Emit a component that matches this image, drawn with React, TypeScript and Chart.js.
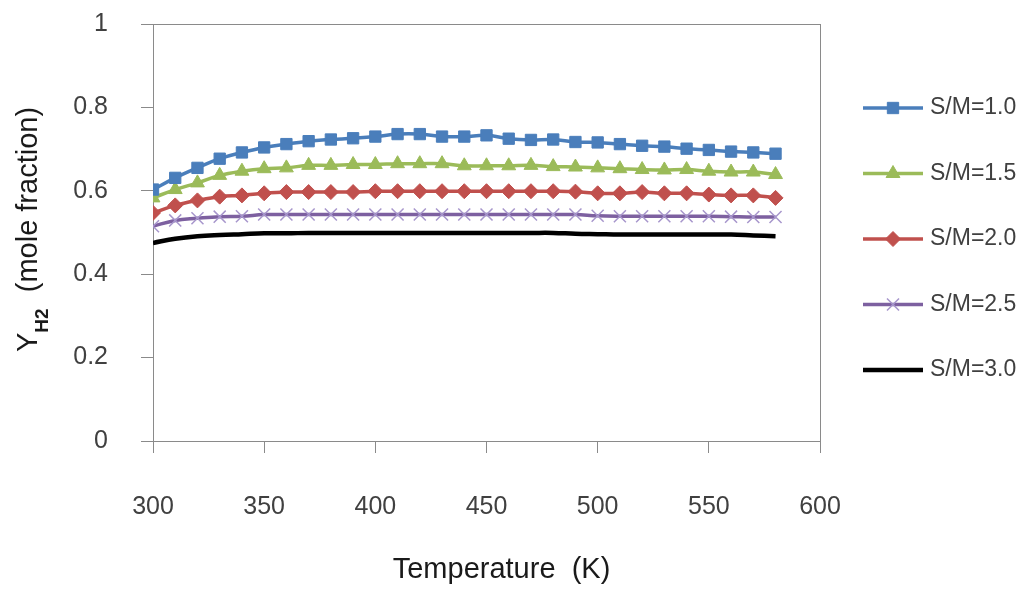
import React, { useEffect, useRef } from 'react';
import { Chart, registerables } from 'chart.js';
import { drawPoint } from 'chart.js/helpers';

Chart.register(...registerables);

// Reaction temperature (K)
const temperatures = [
  300, 310, 320, 330, 340, 350, 360, 370, 380, 390,
  400, 410, 420, 430, 440, 450, 460, 470, 480, 490,
  500, 510, 520, 530, 540, 550, 560, 570, 580,
];

// Hydrogen mole fraction for each steam-to-methanol ratio
const yH2_SM10 = [
  0.603, 0.631, 0.655, 0.677, 0.692, 0.704, 0.712, 0.719, 0.723, 0.726,
  0.730, 0.736, 0.736, 0.730, 0.730, 0.733, 0.725, 0.722, 0.723, 0.717,
  0.716, 0.712, 0.708, 0.706, 0.701, 0.698, 0.694, 0.692, 0.689,
];
const yH2_SM15 = [
  0.583, 0.603, 0.619, 0.637, 0.647, 0.653, 0.655, 0.661, 0.661, 0.663,
  0.663, 0.665, 0.665, 0.665, 0.660, 0.660, 0.660, 0.661, 0.658, 0.657,
  0.655, 0.653, 0.651, 0.650, 0.651, 0.647, 0.645, 0.645, 0.639,
];
const yH2_SM20 = [
  0.547, 0.565, 0.577, 0.586, 0.589, 0.594, 0.597, 0.597, 0.597, 0.597,
  0.599, 0.599, 0.599, 0.599, 0.599, 0.599, 0.599, 0.599, 0.599, 0.598,
  0.594, 0.594, 0.597, 0.594, 0.594, 0.591, 0.589, 0.589, 0.583,
];
const yH2_SM25 = [
  0.515, 0.529, 0.534, 0.538, 0.539, 0.543, 0.543, 0.543, 0.543, 0.543,
  0.543, 0.543, 0.543, 0.543, 0.543, 0.543, 0.543, 0.543, 0.543, 0.543,
  0.540, 0.539, 0.539, 0.539, 0.539, 0.539, 0.538, 0.537, 0.537,
];
const yH2_SM30 = [
  0.475, 0.485, 0.491, 0.494, 0.496, 0.498, 0.498, 0.499, 0.499, 0.499,
  0.499, 0.499, 0.499, 0.499, 0.499, 0.499, 0.499, 0.499, 0.499, 0.497,
  0.496, 0.495, 0.495, 0.495, 0.495, 0.495, 0.495, 0.493, 0.491,
];

const seriesLabels = ['S/M=1.0', 'S/M=1.5', 'S/M=2.0', 'S/M=2.5', 'S/M=3.0'];

const xAxisMin = 300;
const xAxisMax = 600;
const xAxisStep = 50;
const yAxisMin = 0;
const yAxisMax = 1;
const yAxisStep = 0.2;

const xTitle = 'Temperature  (K)';
const yTitleMain = 'Y';
const yTitleSub = 'H2';
const yTitleRest = '  (mole fraction)';

const FONT = '"Liberation Sans", Arial, sans-serif';
const AXIS_COLOR = '#8a8a8a';
const TICK_COLOR = '#404040';

const toPoints = (vals: number[]) => temperatures.map((t, i) => ({ x: t, y: vals[i] }));

// Draws axis titles (with subscript) and the line+marker legend on the right
const annotatePlugin = {
  id: 'annotate',
  afterDraw(chart: any) {
    const ctx: CanvasRenderingContext2D = chart.ctx;
    const area = chart.chartArea;

    // x-axis title
    ctx.save();
    ctx.font = `29px ${FONT}`;
    ctx.fillStyle = '#1a1a1a';
    ctx.textAlign = 'center';
    ctx.textBaseline = 'alphabetic';
    ctx.fillText(xTitle, (area.left + area.right) / 2 + 15, 578);
    ctx.restore();

    // y-axis title, rotated, with bold subscript
    ctx.save();
    ctx.translate(37, 352);
    ctx.rotate(-Math.PI / 2);
    ctx.fillStyle = '#1a1a1a';
    ctx.textAlign = 'left';
    ctx.textBaseline = 'alphabetic';
    ctx.font = `29px ${FONT}`;
    ctx.fillText(yTitleMain, 0, 0);
    let w = ctx.measureText(yTitleMain).width;
    ctx.font = `bold 19px ${FONT}`;
    ctx.fillText(yTitleSub, w, 11);
    w += ctx.measureText(yTitleSub).width;
    ctx.font = `29px ${FONT}`;
    ctx.fillText(yTitleRest, w, 0);
    ctx.restore();

    // legend
    const legendTop = 108;
    const legendStep = 65.5;
    const lineX0 = area.right + 43;
    const lineX1 = lineX0 + 60;
    chart.data.datasets.forEach((ds: any, i: number) => {
      const y = legendTop + i * legendStep;
      ctx.save();
      ctx.strokeStyle = ds.borderColor;
      ctx.lineWidth = ds.borderWidth;
      ctx.lineCap = 'butt';
      ctx.beginPath();
      ctx.moveTo(lineX0, y);
      ctx.lineTo(lineX1, y);
      ctx.stroke();
      if (ds.pointRadius > 0) {
        ctx.fillStyle = ds.pointBackgroundColor;
        ctx.strokeStyle = ds.pointBorderColor;
        ctx.lineWidth = ds.pointBorderWidth;
        drawPoint(
          ctx,
          { pointStyle: ds.pointStyle, radius: ds.pointRadius, borderWidth: ds.pointBorderWidth, rotation: 0 } as any,
          (lineX0 + lineX1) / 2,
          y
        );
      }
      ctx.font = `23px ${FONT}`;
      ctx.fillStyle = TICK_COLOR;
      ctx.textAlign = 'left';
      ctx.textBaseline = 'middle';
      ctx.fillText(ds.label, lineX1 + 7, y);
      ctx.restore();
    });
  },
};

const noPadding = (s: any) => {
  s.paddingTop = 0;
  s.paddingBottom = 0;
  s.paddingLeft = 0;
  s.paddingRight = 0;
};

export default function App() {
  const canvasRef = useRef<HTMLCanvasElement | null>(null);

  useEffect(() => {
    const canvas = canvasRef.current;
    if (!canvas) return;

    const chart = new Chart(canvas, {
      type: 'line',
      data: {
        datasets: [
          {
            label: seriesLabels[0],
            data: toPoints(yH2_SM10),
            borderColor: '#4a7ebb',
            backgroundColor: '#4a7ebb',
            borderWidth: 3.5,
            pointStyle: 'rect',
            pointRadius: 8,
            pointBackgroundColor: '#4a7ebb',
            pointBorderColor: '#4a7ebb',
            pointBorderWidth: 1,
            tension: 0.4,
          },
          {
            label: seriesLabels[1],
            data: toPoints(yH2_SM15),
            borderColor: '#9bbb59',
            backgroundColor: '#9bbb59',
            borderWidth: 3.5,
            pointStyle: 'triangle',
            pointRadius: 8,
            pointBackgroundColor: '#9bbb59',
            pointBorderColor: '#9bbb59',
            pointBorderWidth: 1,
            tension: 0.4,
          },
          {
            label: seriesLabels[2],
            data: toPoints(yH2_SM20),
            borderColor: '#c0504d',
            backgroundColor: '#c0504d',
            borderWidth: 3.5,
            pointStyle: 'rectRot',
            pointRadius: 7.5,
            pointBackgroundColor: '#c0504d',
            pointBorderColor: '#c0504d',
            pointBorderWidth: 1,
            tension: 0.4,
          },
          {
            label: seriesLabels[3],
            data: toPoints(yH2_SM25),
            borderColor: '#7d60a0',
            backgroundColor: '#7d60a0',
            borderWidth: 3.5,
            pointStyle: 'crossRot',
            pointRadius: 8.5,
            pointBackgroundColor: '#a796cc',
            pointBorderColor: '#a796cc',
            pointBorderWidth: 1.5,
            tension: 0.4,
          },
          {
            label: seriesLabels[4],
            data: toPoints(yH2_SM30),
            borderColor: '#000000',
            backgroundColor: '#000000',
            borderWidth: 4.5,
            pointRadius: 0,
            pointBackgroundColor: '#000000',
            pointBorderColor: '#000000',
            pointBorderWidth: 0,
            tension: 0.4,
          },
        ],
      },
      options: {
        responsive: false,
        maintainAspectRatio: false,
        animation: false,
        layout: { padding: 0 },
        plugins: {
          legend: { display: false },
          tooltip: { enabled: false },
          title: { display: false },
        },
        scales: {
          x: {
            type: 'linear',
            position: 'bottom',
            min: xAxisMin,
            max: xAxisMax,
            ticks: {
              stepSize: xAxisStep,
              color: TICK_COLOR,
              font: { family: FONT, size: 25 },
              padding: 39,
              maxRotation: 0,
            },
            grid: { display: true, drawOnChartArea: false, drawTicks: true, tickLength: 12, color: AXIS_COLOR },
            border: { display: true, color: AXIS_COLOR, width: 1 },
            afterFit: (s: any) => { s.height = 149; noPadding(s); },
          },
          x2: {
            type: 'linear',
            position: 'top',
            min: xAxisMin,
            max: xAxisMax,
            ticks: { display: false },
            grid: { display: false },
            border: { display: true, color: AXIS_COLOR, width: 1 },
            afterFit: (s: any) => { s.height = 24; noPadding(s); },
          },
          y: {
            type: 'linear',
            position: 'left',
            min: yAxisMin,
            max: yAxisMax,
            ticks: {
              stepSize: yAxisStep,
              color: TICK_COLOR,
              font: { family: FONT, size: 25 },
              padding: 33,
              callback: (v: any) => String(Number(Number(v).toFixed(1))),
            },
            grid: { display: true, drawOnChartArea: false, drawTicks: true, tickLength: 12, color: AXIS_COLOR },
            border: { display: true, color: AXIS_COLOR, width: 1 },
            afterFit: (s: any) => { s.width = 153; noPadding(s); },
          },
          y2: {
            type: 'linear',
            position: 'right',
            min: yAxisMin,
            max: yAxisMax,
            ticks: { display: false },
            grid: { display: false },
            border: { display: true, color: AXIS_COLOR, width: 1 },
            afterFit: (s: any) => { s.width = 203; noPadding(s); },
          },
        },
      } as any,
      plugins: [annotatePlugin],
    });

    return () => chart.destroy();
  }, []);

  return (
    <div style={{ position: 'fixed', left: 0, top: 0, width: 1023, height: 590, background: '#ffffff' }}>
      <canvas ref={canvasRef} width={1023} height={590} style={{ display: 'block' }} />
    </div>
  );
}
